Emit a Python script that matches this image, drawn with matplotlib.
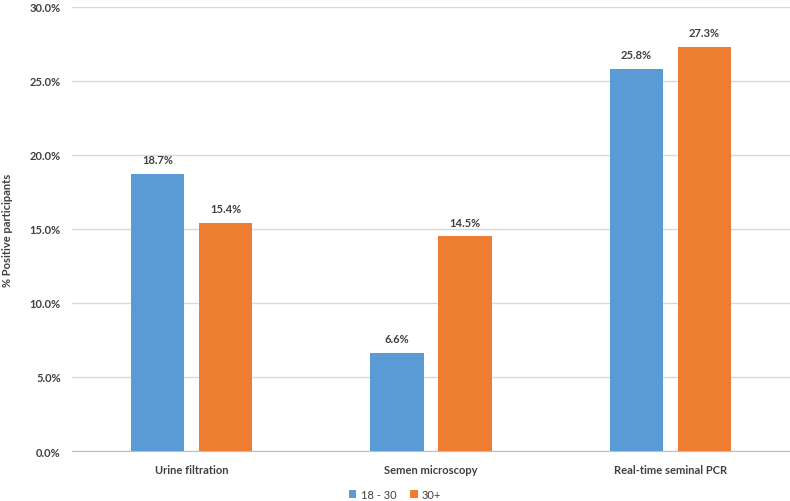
import matplotlib
matplotlib.use("Agg")
import matplotlib.pyplot as plt
import numpy as np
from matplotlib.ticker import FuncFormatter

categories = ["Urine filtration", "Semen microscopy", "Real-time seminal PCR"]
series_names = ["18 - 30", "30+"]
age_18_30 = [18.7, 6.6, 25.8]
age_30p = [15.4, 14.5, 27.3]
colors = ["#5b9bd5", "#ed7d31"]

plt.rcParams['font.family'] = ['Lato', 'DejaVu Sans']
fig = plt.figure(figsize=(7.9, 5.02), dpi=100)
ax = fig.add_axes([0.091, 0.0996, 0.909, 0.8845])

x = np.arange(len(categories))
w = 0.222
off = 0.142
for vals, name, c, d in [(age_18_30, series_names[0], colors[0], -off), (age_30p, series_names[1], colors[1], off)]:
    bars = ax.bar(x + d, vals, width=w, color=c, label=name, zorder=3)
    for b, v in zip(bars, vals):
        ax.text(b.get_x() + b.get_width() / 2, v + 0.6, f"{v:.1f}%", ha="center", va="bottom",
                fontsize=8, fontweight="bold", color="#404040")

ax.set_xlim(-0.5, 2.5)
ax.set_ylim(0, 30)
ax.set_yticks(np.arange(0, 30.1, 5))
ax.yaxis.set_major_formatter(FuncFormatter(lambda v, p: f"{v:.1f}%"))
ax.set_xticks(x)
ax.set_xticklabels(categories)
ax.grid(axis="y", color="#d9d9d9", linewidth=1, zorder=0)
for s in ["top", "right", "left"]:
    ax.spines[s].set_visible(False)
ax.spines["bottom"].set_color("#bfbfbf")
ax.tick_params(axis="y", length=0, labelsize=8, colors="#404040", pad=8)
ax.tick_params(axis="x", length=0, labelsize=8, colors="#404040", pad=9)
for lab in ax.get_xticklabels() + ax.get_yticklabels():
    lab.set_fontweight("bold")
ax.set_ylabel("% Positive participants", fontsize=8, fontweight="bold", color="#404040", labelpad=12)

leg = fig.legend(loc="lower center", bbox_to_anchor=(0.5, -0.018), ncol=2, frameon=False,
                 fontsize=8, handlelength=0.7, handleheight=0.7, columnspacing=1.2, handletextpad=0.4)
for t in leg.get_texts():
    t.set_color("#404040")

fig.savefig("out.png", dpi=100)
